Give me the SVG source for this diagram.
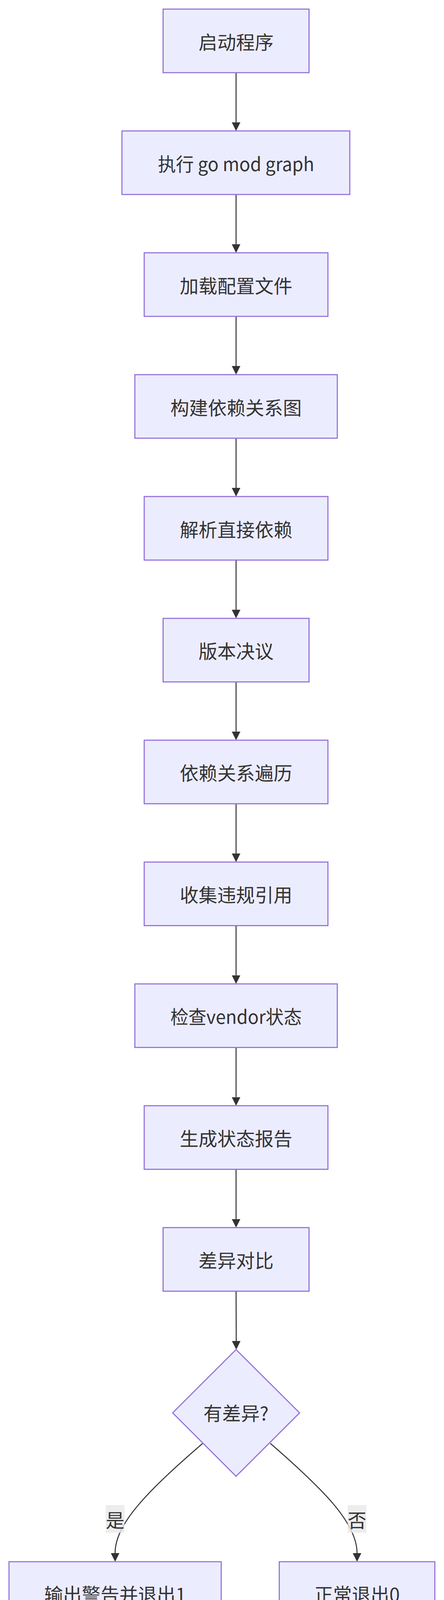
<svg xmlns="http://www.w3.org/2000/svg" width="1136" height="4187" viewBox="0 0 1136 4187">
<style>
.node rect, .node polygon { fill: #ECECFF; stroke: #9370DB; stroke-width: 2.8; }
.node text, .elabel text { font-family: "Noto Sans CJK SC", "Liberation Sans", sans-serif; font-size: 48px; fill: #333333; text-anchor: middle; dominant-baseline: central; }
.edge { fill: none; stroke: #333333; stroke-width: 2.6; }
.elabel rect { fill: #E8E8E8; fill-opacity: 0.8; }
</style>
<defs>
<marker id="arrow" viewBox="0 0 10 10" refX="0" refY="5" markerUnits="userSpaceOnUse" markerWidth="22" markerHeight="22" orient="auto">
<path d="M0,0 L10,5 L0,10 z" fill="#333333"/>
</marker>
</defs>
<rect width="1136" height="4187" fill="#ffffff"/>
<g id="edges">
<path class="edge" marker-end="url(#arrow)" d="M604,186 L604,313.2"/>
<path class="edge" marker-end="url(#arrow)" d="M604,497.9 L604,625.2"/>
<path class="edge" marker-end="url(#arrow)" d="M604,809.9 L604,937.1"/>
<path class="edge" marker-end="url(#arrow)" d="M604,1121.8 L604,1249.1"/>
<path class="edge" marker-end="url(#arrow)" d="M604,1433.8 L604,1561"/>
<path class="edge" marker-end="url(#arrow)" d="M604,1745.7 L604,1872.9"/>
<path class="edge" marker-end="url(#arrow)" d="M604,2057.6 L604,2184.9"/>
<path class="edge" marker-end="url(#arrow)" d="M604,2369.6 L604,2496.8"/>
<path class="edge" marker-end="url(#arrow)" d="M604,2681.5 L604,2808.7"/>
<path class="edge" marker-end="url(#arrow)" d="M604,2993.4 L604,3120.7"/>
<path class="edge" marker-end="url(#arrow)" d="M604,3305.4 L604.4,3433"/>
<path class="edge" marker-end="url(#arrow)" d="M518.7,3695 C380,3815 294.5,3900 294.5,3976"/>
<path class="edge" marker-end="url(#arrow)" d="M691.5,3695 C830,3815 913.5,3900 913.5,3976"/>
<g class="elabel" id="label-yes">
<rect x="270.5" y="3853" width="48" height="71"/>
<text x="294.5" y="3888.5">是</text>
</g>
<g class="elabel" id="label-no">
<rect x="889.5" y="3853" width="48" height="71"/>
<text x="913.5" y="3888.5">否</text>
</g>
</g>
<g id="n0" class="node"><rect x="417.3" y="23.3" width="373.4" height="162.7"/><text x="604" y="104.7">启动程序</text></g>
<g id="n1" class="node"><rect x="312" y="335.2" width="583" height="162.7"/><text x="604" y="416.6" textLength="400" lengthAdjust="spacingAndGlyphs">执行 go mod graph</text></g>
<g id="n2" class="node"><rect x="369" y="647.2" width="470" height="162.7"/><text x="604" y="728.6">加载配置文件</text></g>
<g id="n3" class="node"><rect x="345" y="959.1" width="518" height="162.7"/><text x="604" y="1040.5">构建依赖关系图</text></g>
<g id="n4" class="node"><rect x="369" y="1271.1" width="470" height="162.7"/><text x="604" y="1352.5">解析直接依赖</text></g>
<g id="n5" class="node"><rect x="417.3" y="1583" width="373.4" height="162.7"/><text x="604" y="1664.4">版本决议</text></g>
<g id="n6" class="node"><rect x="369" y="1894.9" width="470" height="162.7"/><text x="604" y="1976.3">依赖关系遍历</text></g>
<g id="n7" class="node"><rect x="369" y="2206.9" width="470" height="162.7"/><text x="604" y="2288.3">收集违规引用</text></g>
<g id="n8" class="node"><rect x="345" y="2518.8" width="518" height="162.7"/><text x="604" y="2600.2" textLength="336" lengthAdjust="spacingAndGlyphs">检查vendor状态</text></g>
<g id="n9" class="node"><rect x="369" y="2830.7" width="470" height="162.7"/><text x="604" y="2912.1">生成状态报告</text></g>
<g id="n10" class="node"><rect x="417.3" y="3142.7" width="373.4" height="162.7"/><text x="604" y="3224.1">差异对比</text></g>
<g id="n11" class="node"><polygon points="604,3455 766.5,3617 604,3779.3 441.7,3617"/><text x="604" y="3615">有差异?</text></g>
<g id="n12" class="node"><rect x="23" y="3998" width="543" height="162.7"/><text x="294.5" y="4079.4">输出警告并退出1</text></g>
<g id="n13" class="node"><rect x="714.5" y="3998" width="398" height="162.7"/><text x="913.5" y="4079.4">正常退出0</text></g>
</svg>
